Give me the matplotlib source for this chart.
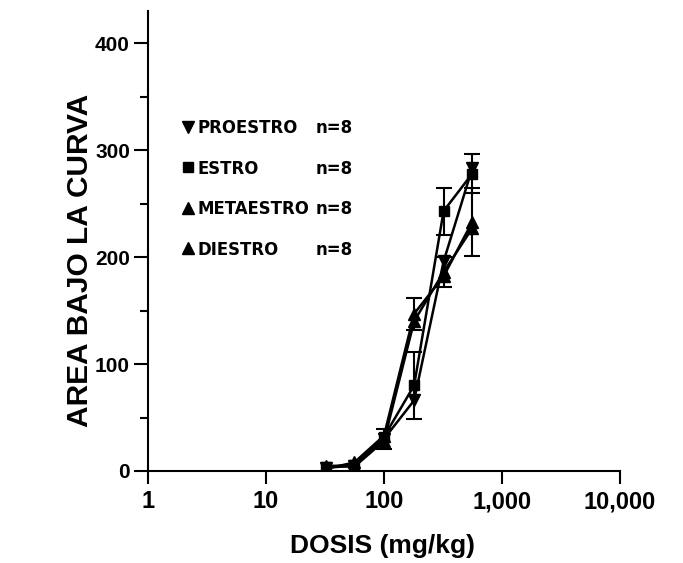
import matplotlib.pyplot as plt
from matplotlib import font_manager
from matplotlib.lines import Line2D
from matplotlib.ticker import FixedLocator, MultipleLocator, NullLocator

# datos
dosis = [32, 56, 100, 180, 320, 560]
proestro = [3, 5, 30, 66, 196, 283]
proestro_err = [0, 0, 9, 0, 0, 0]
estro = [4, 6, 32, 80, 243, 278]
estro_err = [0, 0, 0, 31, 22, 18]
metaestro = [2, 8, 33, 147, 182, 233]
metaestro_err = [0, 0, 0, 15, 0, 32]
diestro = [5, 4, 28, 140, 186, 227]
diestro_err = [0, 0, 0, 0, 14, 0]

series = [
    ("PROESTRO", proestro, proestro_err, "v", 9),
    ("ESTRO", estro, estro_err, "s", 7),
    ("METAESTRO", metaestro, metaestro_err, "^", 9),
    ("DIESTRO", diestro, diestro_err, "^", 9),
]
n_label = "n=8"

x_ticks = [1, 10, 100, 1000, 10000]
x_labels = ["1", "10", "100", "1,000", "10,000"]
y_ticks = [0, 100, 200, 300, 400]

plt.rcParams['font.family'] = ['Liberation Sans', 'DejaVu Sans']

# fuente estrecha para la leyenda si existe
fonts = font_manager.fontManager.ttflist
names = {f.name for f in fonts}
if 'Liberation Sans Narrow' in names:
    leg_font = dict(family=['Liberation Sans Narrow', 'DejaVu Sans'], size=15)
elif any(f.name == 'DejaVu Sans' and f.stretch == 'condensed' for f in fonts):
    leg_font = dict(family=['DejaVu Sans'], stretch='condensed', size=13.2)
else:
    leg_font = dict(family=['Liberation Sans', 'DejaVu Sans'], size=12.5)

W, H = 683, 563
fig = plt.figure(figsize=(W / 100, H / 100), dpi=100)
ax = fig.add_axes([148 / W, 92 / H, (620 - 148) / W, (471 - 11) / H])

for name, vals, err, mk, ms in series:
    ax.plot(dosis, vals, color="black", linewidth=1.8, marker=mk, markersize=ms, zorder=3)
    idx = [i for i, e in enumerate(err) if e > 0]
    if idx:
        ax.errorbar([dosis[i] for i in idx], [vals[i] for i in idx],
                    yerr=[err[i] for i in idx], fmt="none", ecolor="black",
                    elinewidth=1.5, capsize=6, capthick=1.5, zorder=2)

ax.set_xscale("log")
ax.set_xlim(1, 10000)
ax.set_ylim(0, 430)

ax.spines["top"].set_visible(False)
ax.spines["right"].set_visible(False)
ax.spines["left"].set_linewidth(1.5)
ax.spines["bottom"].set_linewidth(1.5)

ax.xaxis.set_major_locator(FixedLocator(x_ticks))
ax.xaxis.set_minor_locator(NullLocator())
ax.set_xticklabels(x_labels)
ax.yaxis.set_major_locator(FixedLocator(y_ticks))
ax.yaxis.set_minor_locator(MultipleLocator(50))

ax.tick_params(axis="x", which="major", direction="out", length=9, width=1.5, pad=5,
               labelsize=17)
ax.tick_params(axis="y", which="major", direction="out", length=10, width=1.5, pad=3,
               labelsize=15)
ax.tick_params(axis="y", which="minor", direction="out", length=6, width=1.5)
for lab in ax.get_xticklabels() + ax.get_yticklabels():
    lab.set_fontweight("bold")

fig.text(80 / W, 1 - 260 / H, "AREA BAJO LA CURVA", rotation=90, ha="center", va="center",
         fontsize=21.5, fontweight="bold")
fig.text(383 / W, 1 - 546 / H, "DOSIS (mg/kg)", ha="center", va="center",
         fontsize=19, fontweight="bold")

fs_px = leg_font['size'] * 100 / 72
handles = [Line2D([], [], linestyle="none", marker=mk, markersize=ms, color="black")
           for _, _, _, mk, ms in series]
leg = ax.legend(handles, [s[0] for s in series], loc="upper left",
                bbox_to_anchor=((182 - 148) / 472, (471 - 119) / 460),
                frameon=False, prop=font_manager.FontProperties(weight="bold", **leg_font),
                handlelength=0.6, handletextpad=0.25,
                labelspacing=(40 - 0.95 * fs_px) / fs_px,
                borderpad=0, borderaxespad=0)

fig.canvas.draw()
for t in leg.get_texts():
    bb = t.get_window_extent()
    yc = (bb.y0 + bb.y1) / 2
    fig.text(316 / W, yc / fig.bbox.height, n_label, ha="left", va="center",
             fontproperties=font_manager.FontProperties(weight="bold", **leg_font))

fig.savefig("out.png", dpi=100)
